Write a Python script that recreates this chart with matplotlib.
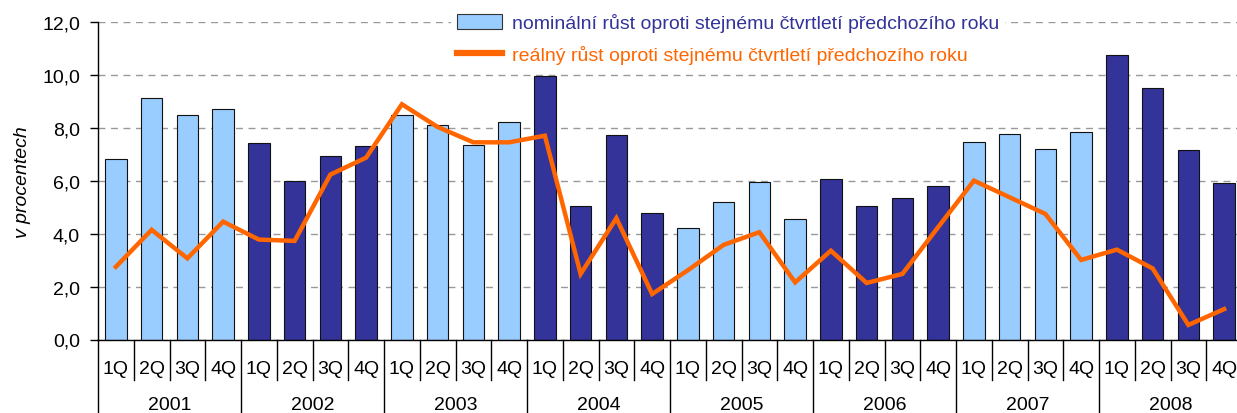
import numpy as np
import matplotlib
matplotlib.use('Agg')
import matplotlib.pyplot as plt
from matplotlib.patches import Patch
from matplotlib.lines import Line2D

plt.rcParams['font.family'] = ['Liberation Sans', 'DejaVu Sans']

years = ['2001', '2002', '2003', '2004', '2005', '2006', '2007', '2008']
quarters = ['1Q', '2Q', '3Q', '4Q']

# nominal growth (bars), % y/y
nominal = [6.84, 9.13, 8.48, 8.71,
           7.45, 5.99, 6.93, 7.33,
           8.48, 8.10, 7.36, 8.22,
           9.96, 5.06, 7.75, 4.80,
           4.21, 5.19, 5.95, 4.55,
           6.06, 5.04, 5.37, 5.80,
           7.46, 7.76, 7.21, 7.84,
           10.78, 9.53, 7.16, 5.92]

# real growth (line), % y/y
real = [2.75, 4.15, 3.07, 4.46,
        3.78, 3.73, 6.24, 6.88,
        8.90, 8.04, 7.46, 7.46,
        7.71, 2.48, 4.59, 1.72,
        2.62, 3.58, 4.06, 2.16,
        3.36, 2.14, 2.48, 4.25,
        6.01, 5.38, 4.75, 3.01,
        3.40, 2.69, 0.55, 1.15]

label_nom = 'nominální růst oproti stejnému čtvrtletí předchozího roku'
label_real = 'reálný růst oproti stejnému čtvrtletí předchozího roku'

light = '#99CCFF'
dark = '#333399'
orange = '#FF6600'

W, H = 1237, 414
fig = plt.figure(figsize=(W / 100, H / 100), dpi=100)
ax = fig.add_axes([98 / W, 1 - 340.5 / H, 1144 / W, 317.2 / H])

x = np.arange(len(nominal))
colors = [light if (i // 4) % 2 == 0 else dark for i in x]
ax.bar(x, nominal, width=0.6, color=colors, edgecolor='#111111', linewidth=0.8, zorder=2)
ax.plot(x, real, color=orange, linewidth=3.2, zorder=3, solid_joinstyle='miter')

ax.set_xlim(-0.5, len(nominal) - 0.5)
ax.set_ylim(0, 12)
ax.set_yticks(np.arange(0, 12.1, 2))
ax.set_yticklabels([f'{v:.1f}'.replace('.', ',') for v in np.arange(0, 12.1, 2)], fontsize=14)
ax.yaxis.grid(True, color='#999999', linestyle=(0, (5, 4)), linewidth=1)
ax.set_axisbelow(True)
ax.tick_params(axis='y', length=6, width=1, direction='out', pad=7)
ax.tick_params(axis='x', length=0, labelbottom=False)
for s in ['top', 'right']:
    ax.spines[s].set_visible(False)
ax.spines['left'].set_linewidth(1)
ax.spines['bottom'].set_linewidth(1)
ax.set_ylabel('v procentech', fontsize=14, style='italic', labelpad=8)

# category axis: quarter and year separators/labels
tr = ax.get_xaxis_transform()
for i in range(len(nominal) - 1):
    if (i + 1) % 4 != 0:
        ax.plot([i + 0.5, i + 0.5], [0, -0.128], transform=tr, color='black', lw=1, clip_on=False)
for k in range(len(years) + 1):
    xs = 4 * k - 0.5
    ax.plot([xs, xs], [0, -0.25], transform=tr, color='black', lw=1, clip_on=False)
for i in x:
    ax.text(i, -0.093, quarters[i % 4], transform=tr, ha='center', va='center', fontsize=14)
for k, yr in enumerate(years):
    ax.text(4 * k + 1.5, -0.206, yr, transform=tr, ha='center', va='center', fontsize=14)

handles = [Patch(facecolor=light, edgecolor='#333333', linewidth=0.8),
           Line2D([0], [0], color=orange, linewidth=4.5)]
leg = fig.legend(handles, [label_nom, label_real], loc='upper left',
                 bbox_to_anchor=(451 / W, 1 - 8 / H), bbox_transform=fig.transFigure,
                 frameon=True, fontsize=14, handlelength=2.3, handleheight=0.8,
                 handletextpad=0.55, labelspacing=0.7, borderaxespad=0, borderpad=0.3)
leg.get_frame().set_facecolor('white')
leg.get_frame().set_edgecolor('none')
leg.get_frame().set_alpha(1)
leg.set_zorder(5)
for t, c in zip(leg.get_texts(), [dark, orange]):
    t.set_color(c)

fig.savefig('out.png', dpi=100)
